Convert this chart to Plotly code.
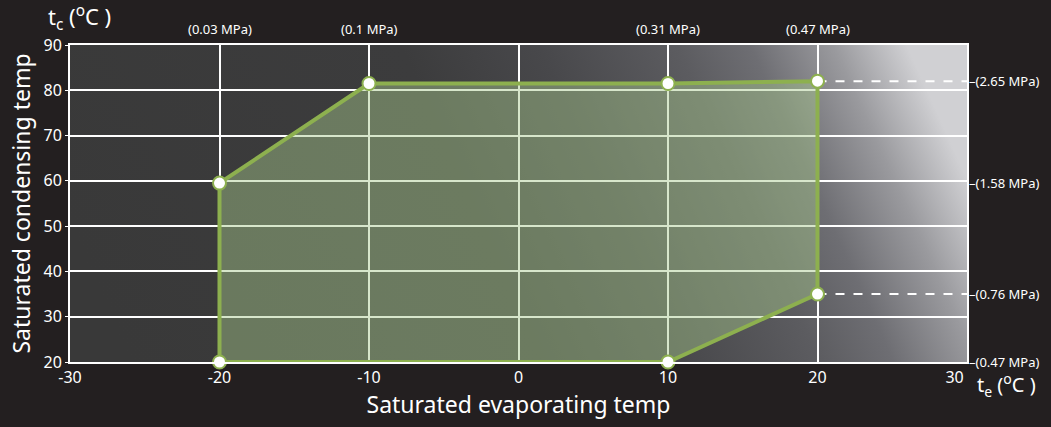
import plotly.graph_objects as go
import base64

# --- data ---
envelope_te = [-20, -20, -10, 10, 20, 20, 10, -20]
envelope_tc = [20, 59.5, 81.5, 81.5, 82, 35, 20, 20]

top_te = [-20, -10, 10, 20]
top_labels = ["(0.03 MPa)", "(0.1 MPa)", "(0.31 MPa)", "(0.47 MPa)"]

right_tc = [82, 59.5, 35, 20]
right_labels = ["(2.65 MPa)", "(1.58 MPa)", "(0.76 MPa)", "(0.47 MPa)"]

dash_te = [[20, 30], [20, 30]]
dash_tc = [[82, 82], [35, 35]]

x_ticks = [-30, -20, -10, 0, 10, 20, 30]
x_ticktext = ["-30", "-20", "-10", "0", "10", "20", "30" + "\u00a0" * 6]
y_ticks = [20, 30, 40, 50, 60, 70, 80, 90]

FONT = "Noto Sans"
BG = "#231f20"
GREEN = "#8db04f"

svg = (
    '<svg xmlns="http://www.w3.org/2000/svg" width="600" height="300" preserveAspectRatio="none">'
    '<defs><linearGradient id="g" x1="0" y1="0.58" x2="1" y2="0.42">'
    '<stop offset="0" stop-color="#393939"/>'
    '<stop offset="0.45" stop-color="#3c3c3d"/>'
    '<stop offset="0.6" stop-color="#48484b"/>'
    '<stop offset="0.75" stop-color="#5c5c60"/>'
    '<stop offset="0.83" stop-color="#6e6e73"/>'
    '<stop offset="0.92" stop-color="#9a9a9e"/>'
    '<stop offset="1" stop-color="#d0d0d3"/>'
    '</linearGradient></defs>'
    '<rect width="600" height="300" fill="url(#g)"/></svg>'
)
src = "data:image/svg+xml;base64," + base64.b64encode(svg.encode()).decode()

fig = go.Figure()

fig.add_trace(go.Scatter(
    x=envelope_te, y=envelope_tc, mode="lines", fill="toself",
    fillcolor="rgba(166,199,139,0.45)",
    line=dict(color=GREEN, width=4), hoverinfo="skip", showlegend=False,
    cliponaxis=False,
))
for xs, ys in zip(dash_te, dash_tc):
    fig.add_trace(go.Scatter(
        x=xs, y=ys, mode="lines", line=dict(color="white", width=2, dash="dash"),
        hoverinfo="skip", showlegend=False,
    ))
fig.add_trace(go.Scatter(
    x=envelope_te[:-1], y=envelope_tc[:-1], mode="markers",
    marker=dict(size=13, color="white", line=dict(color=GREEN, width=2)),
    showlegend=False, cliponaxis=False,
))

annotations = []
for xv, lab in zip(top_te, top_labels):
    annotations.append(dict(x=xv, y=1, xref="x", yref="paper", text=lab,
                            showarrow=False, yanchor="bottom", yshift=5,
                            font=dict(family=FONT, size=13, color="white")))
for yv, lab in zip(right_tc, right_labels):
    annotations.append(dict(x=1, y=yv, xref="paper", yref="y", text="\u2013" + lab,
                            showarrow=False, xanchor="left", xshift=0,
                            font=dict(family=FONT, size=13, color="white")))
annotations.append(dict(x=0, y=1, xref="paper", yref="paper",
                        text="t<sub>c</sub> (<sup>o</sup>C )", showarrow=False,
                        xanchor="center", yanchor="bottom", yshift=8, xshift=9,
                        font=dict(family=FONT, size=22, color="white")))
annotations.append(dict(x=1, y=0, xref="paper", yref="paper",
                        text="t<sub>e</sub> (<sup>o</sup>C )", showarrow=False,
                        xanchor="left", yanchor="top", xshift=8, yshift=-5,
                        font=dict(family=FONT, size=20, color="white")))

fig.update_layout(
    width=1051, height=427,
    margin=dict(l=70, r=84, t=45, b=65),
    paper_bgcolor=BG, plot_bgcolor="rgba(0,0,0,0)",
    font=dict(family=FONT, color="white"),
    annotations=annotations,
    images=[dict(source=src, xref="x", yref="y", x=-30, y=90, sizex=60, sizey=70,
                 sizing="stretch", xanchor="left", yanchor="top", layer="below")],
)
fig.update_xaxes(
    range=[-30, 30], tickvals=x_ticks, ticktext=x_ticktext, showgrid=True,
    gridcolor="white", gridwidth=2,
    showline=True, linecolor="white", linewidth=2, mirror=True, zeroline=False,
    ticks="", tickfont=dict(size=16, color="white"),
    title=dict(text="Saturated evaporating temp", font=dict(size=23, color="white"), standoff=6),
)
fig.update_yaxes(
    range=[20, 90], tickvals=y_ticks, showgrid=True, gridcolor="white", gridwidth=2,
    showline=True, linecolor="white", linewidth=2, mirror=True, zeroline=False,
    ticks="outside", ticklen=3, tickcolor="white", tickfont=dict(size=16, color="white"),
    title=dict(text="Saturated condensing temp", font=dict(size=23, color="white"), standoff=6),
)

fig.write_html("out.html", config={"displayModeBar": False},
               post_script="document.body.style.margin='0';")
